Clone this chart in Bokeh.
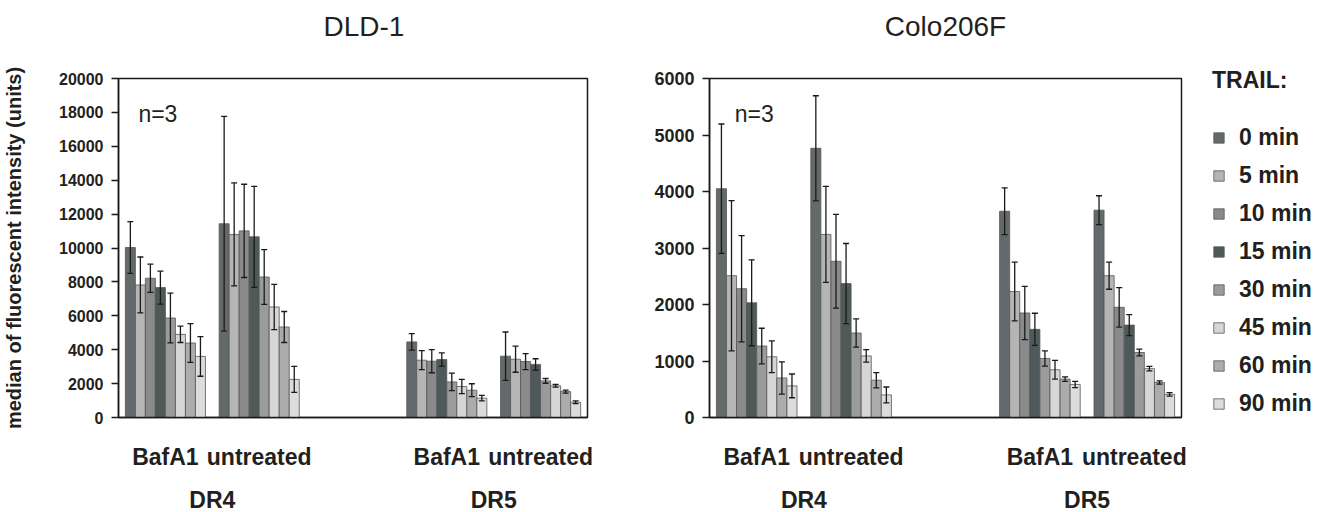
from bokeh.plotting import figure
from bokeh.models import ColumnDataSource, FactorRange, FixedTicker, Legend, LegendItem, Title
from bokeh.transform import dodge
from bokeh.layouts import row
from bokeh.embed import file_html
from bokeh.resources import INLINE
from bokeh.core.properties import value

# ---------------- data ----------------
receptors = ["DR4", "DR5"]
treatments = ["BafA1", "untreated"]
timepoints = ["0 min", "5 min", "10 min", "15 min", "30 min", "45 min", "60 min", "90 min"]
colors = ["#646a6b", "#b5b5b5", "#8a8a8a", "#4f5959", "#9b9b9b", "#d6d6d6", "#acacac", "#dcdcdc"]

dld1_ticks = [0, 2000, 4000, 6000, 8000, 10000, 12000, 14000, 16000, 18000, 20000]
colo_ticks = [0, 1000, 2000, 3000, 4000, 5000, 6000]

# DLD-1 (means and error, per condition, one value per TRAIL time point)
dld1_dr4_bafa1 = [10030, 7820, 8215, 7663, 5870, 4905, 4393, 3605]
dld1_dr4_bafa1_err = [1530, 1650, 830, 970, 1470, 480, 1140, 1170]
dld1_dr4_untreated = [11430, 10800, 11010, 10660, 8290, 6520, 5340, 2250]
dld1_dr4_untreated_err = [6330, 3040, 2750, 2980, 1615, 1330, 915, 770]
dld1_dr5_bafa1 = [4460, 3380, 3320, 3420, 2100, 1830, 1610, 1140]
dld1_dr5_bafa1_err = [490, 560, 680, 390, 520, 420, 380, 160]
dld1_dr5_untreated = [3620, 3440, 3300, 3130, 2160, 1870, 1530, 900]
dld1_dr5_untreated_err = [1425, 770, 470, 335, 140, 80, 90, 80]

# Colo206F
colo_dr4_bafa1 = [4050, 2510, 2280, 2030, 1265, 1075, 700, 560]
colo_dr4_bafa1_err = [1145, 1330, 940, 760, 315, 280, 285, 210]
colo_dr4_untreated = [4765, 3240, 2765, 2370, 1495, 1090, 660, 400]
colo_dr4_untreated_err = [930, 850, 830, 710, 250, 110, 135, 140]
colo_dr5_bafa1 = [3650, 2230, 1850, 1560, 1045, 845, 680, 585]
colo_dr5_bafa1_err = [415, 520, 470, 285, 135, 165, 40, 55]
colo_dr5_untreated = [3670, 2510, 1950, 1635, 1150, 865, 620, 410]
colo_dr5_untreated_err = [255, 240, 350, 185, 60, 40, 30, 30]

FONT = "Liberation Sans"
TXT = "#231f20"
TOP, FRAME_H, TOTAL_H = 78, 339, 512


def make_panel(title, means, errs, ymax, ticks, tick_size, n_y, n_dx, border_left,
               border_right, frame_w, title_align="center", title_offset=0,
               ylabel=None, with_legend=False):
    conditions = [(r, t) for r in receptors for t in treatments]
    p = figure(x_range=FactorRange(*conditions, group_padding=1.0, factor_padding=0.0,
                                   range_padding=0.0),
               y_range=(0, ymax), frame_width=frame_w, frame_height=FRAME_H,
               width=border_left + frame_w + border_right, height=TOTAL_H,
               min_border_left=border_left, min_border_right=border_right,
               min_border_top=TOP, min_border_bottom=TOTAL_H - TOP - FRAME_H,
               toolbar_location=None, tools="", output_backend="svg", title=None)
    p.background_fill_color = "white"
    p.border_fill_color = "white"
    p.outline_line_color = "#1a1a1a"
    p.outline_line_width = 1.5
    p.grid.visible = False

    # blank spacer line between frame and title, then the title above it
    p.add_layout(Title(text=" ", text_font=FONT, text_font_size="27px", standoff=0), "above")
    p.add_layout(Title(text=title, align=title_align, offset=title_offset,
                       text_font=FONT, text_font_size="28px", text_font_style="normal",
                       text_color=TXT, standoff=10), "above")

    data = dict(x=conditions)
    for i in range(len(timepoints)):
        data[f"m{i}"] = [m[i] for m in means]
        data[f"lo{i}"] = [m[i] - e[i] for m, e in zip(means, errs)]
        data[f"hi{i}"] = [m[i] + e[i] for m, e in zip(means, errs)]
    src = ColumnDataSource(data)

    w = 0.854 / len(timepoints)
    cap = 0.032
    items = []
    for i, tp in enumerate(timepoints):
        off = (i - (len(timepoints) - 1) / 2) * w
        r = p.vbar(x=dodge("x", off, range=p.x_range), top=f"m{i}", width=w, source=src,
                   fill_color=colors[i], line_color="#555555", line_width=0.8)
        items.append(LegendItem(label=tp, renderers=[r]))
    for i in range(len(timepoints)):
        off = (i - (len(timepoints) - 1) / 2) * w
        p.segment(x0=dodge("x", off, range=p.x_range), x1=dodge("x", off, range=p.x_range),
                  y0=f"lo{i}", y1=f"hi{i}", source=src, line_color="#1a1a1a", line_width=1.3)
        for key in ("lo", "hi"):
            p.segment(x0=dodge("x", off - cap, range=p.x_range),
                      x1=dodge("x", off + cap, range=p.x_range),
                      y0=f"{key}{i}", y1=f"{key}{i}", source=src,
                      line_color="#1a1a1a", line_width=1.3)

    # n=3 note
    p.text(x=[conditions[0]], y=[n_y], text=["n=3"], x_offset=n_dx,
           text_font=value(FONT), text_font_size="23px", text_color=TXT,
           text_align="left", text_baseline="alphabetic")

    # y axis
    ya = p.yaxis[0]
    ya.ticker = FixedTicker(ticks=ticks)
    ya.minor_tick_line_color = None
    ya.major_tick_out = 7
    ya.major_tick_in = 0
    ya.major_label_standoff = 8
    ya.major_label_text_font = FONT
    ya.major_label_text_font_size = tick_size
    ya.major_label_text_font_style = "bold"
    ya.major_label_text_color = TXT
    ya.axis_line_color = "#1a1a1a"
    ya.axis_line_width = 1.5
    ya.major_tick_line_color = "#1a1a1a"
    ya.major_tick_line_width = 1.3
    if ylabel:
        ya.axis_label = ylabel
        ya.axis_label_text_font = FONT
        ya.axis_label_text_font_size = "20px"
        ya.axis_label_text_font_style = "bold"
        ya.axis_label_text_color = TXT
        ya.axis_label_standoff = 31

    # x axis (bottom)
    xa = p.xaxis[0]
    xa.major_tick_line_color = None
    xa.major_tick_out = 12
    xa.major_tick_in = 0
    xa.minor_tick_line_color = None
    xa.axis_line_color = "#1a1a1a"
    xa.axis_line_width = 1.5
    xa.separator_line_color = None
    xa.major_label_standoff = 14
    xa.major_label_text_font = FONT
    xa.major_label_text_font_size = "23px"
    xa.major_label_text_font_style = "bold"
    xa.major_label_text_color = TXT
    xa.group_text_font = FONT
    xa.group_text_font_size = "23px"
    xa.group_text_font_style = "bold"
    xa.group_text_color = TXT

    if with_legend:
        leg = Legend(items=items, location=(31, 0),
                     title="TRAIL:", title_text_font=FONT, title_text_font_size="23px",
                     title_text_font_style="bold", title_text_color=TXT, title_standoff=30,
                     label_text_font=FONT, label_text_font_size="23px",
                     label_text_font_style="bold", label_text_color=TXT,
                     glyph_width=13, glyph_height=13, label_standoff=14, spacing=11,
                     padding=0, margin=0, border_line_color=None,
                     background_fill_alpha=0)
        p.add_layout(leg, "right")
    return p


p1 = make_panel("DLD-1",
                [dld1_dr4_bafa1, dld1_dr4_untreated, dld1_dr5_bafa1, dld1_dr5_untreated],
                [dld1_dr4_bafa1_err, dld1_dr4_untreated_err, dld1_dr5_bafa1_err, dld1_dr5_untreated_err],
                20000, dld1_ticks, "16px", 17935, -27, 115, 64, 469,
                title_align="left", title_offset=205,
                ylabel="median of fluorescent intensity (units)")
p2 = make_panel("Colo206F",
                [colo_dr4_bafa1, colo_dr4_untreated, colo_dr5_bafa1, colo_dr5_untreated],
                [colo_dr4_bafa1_err, colo_dr4_untreated_err, colo_dr5_bafa1_err, colo_dr5_untreated_err],
                6000, colo_ticks, "18px", 5380, -22, 57, 157, 472, with_legend=True)

layout = row(p1, p2, spacing=0)
open("out.html", "w").write(file_html(layout, INLINE))
